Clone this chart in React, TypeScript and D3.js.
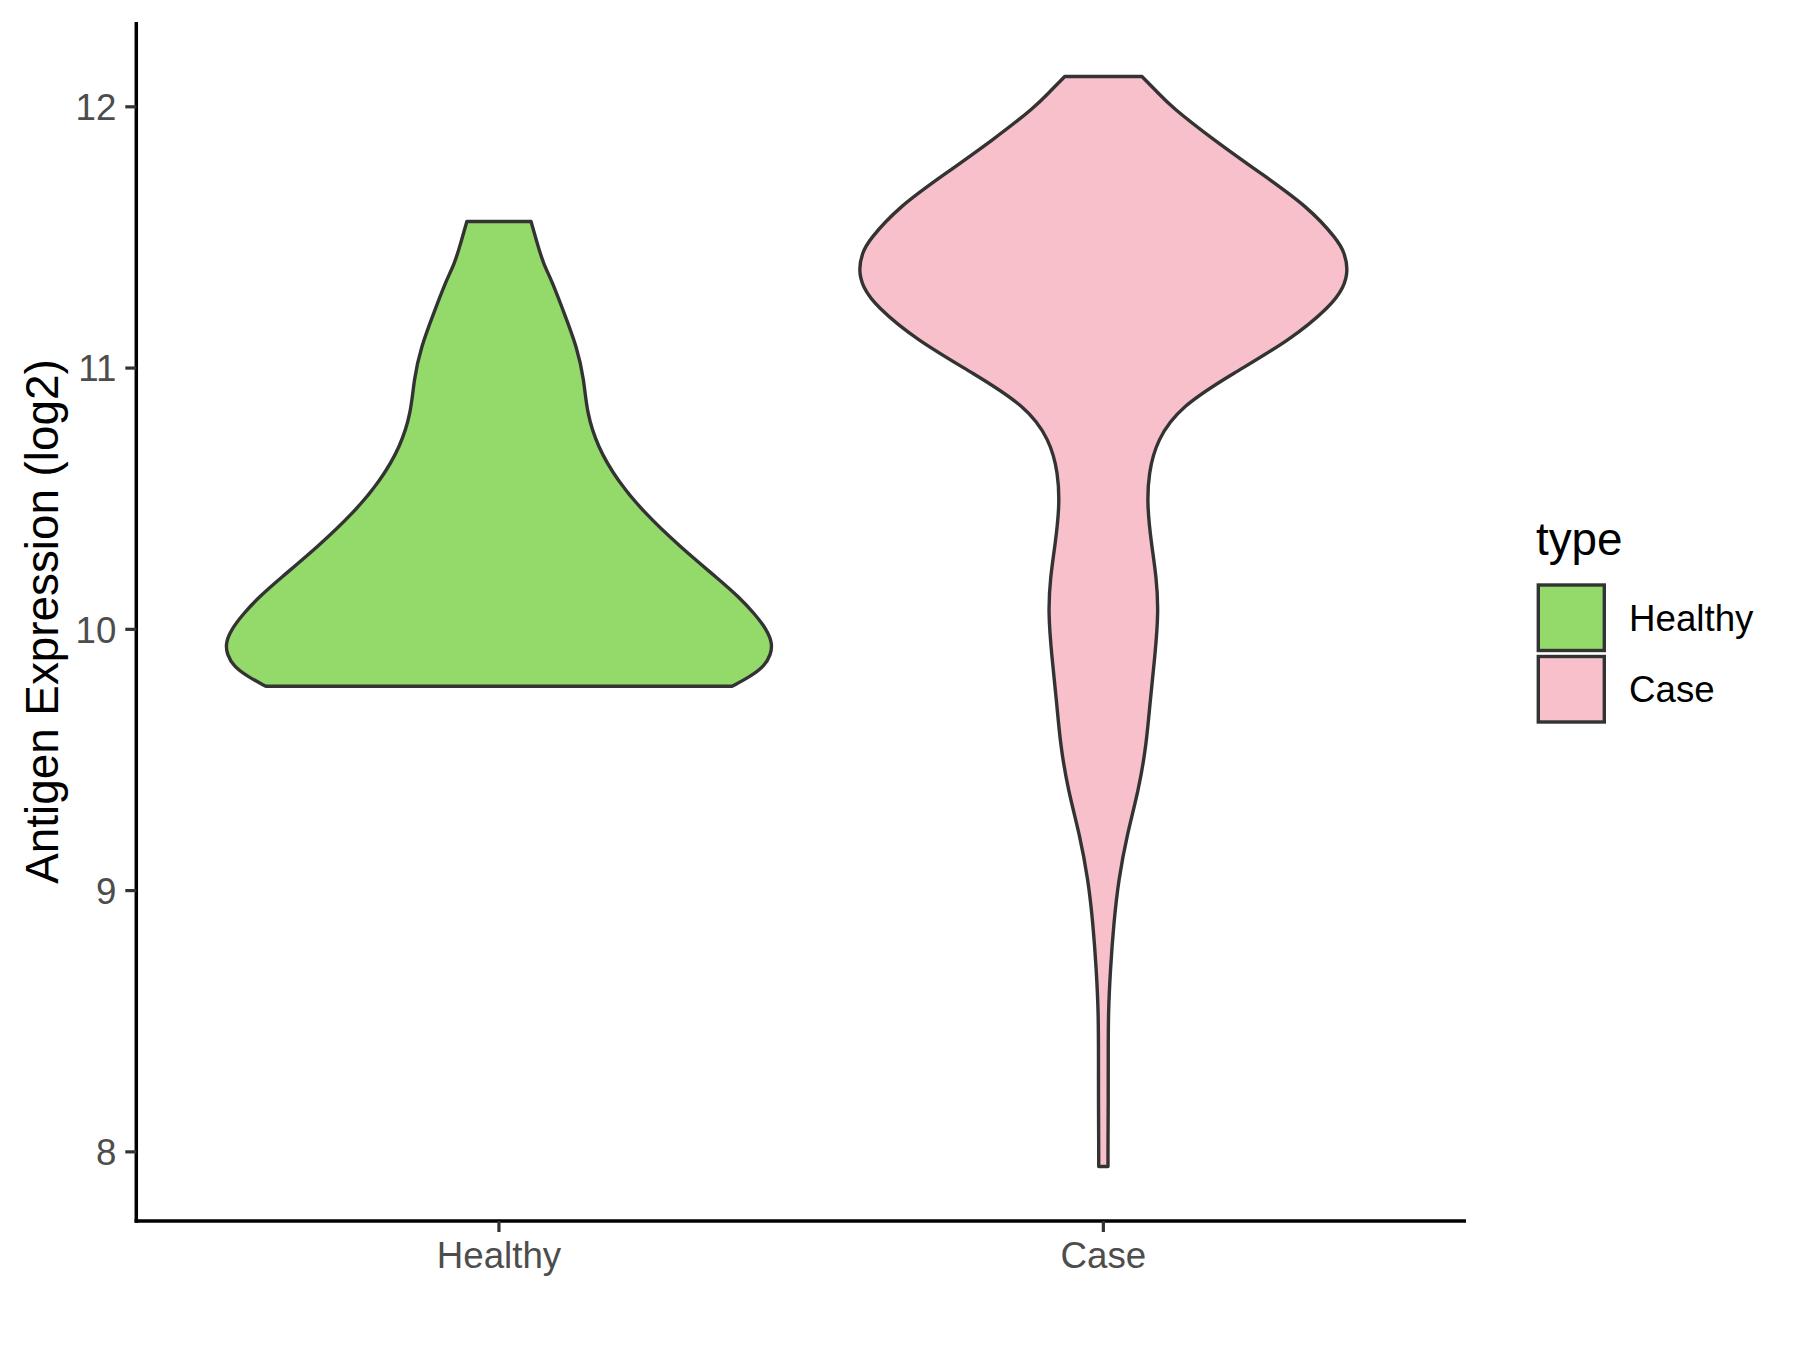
import React from "react";
import * as d3 from "d3";

const categories = ["Healthy", "Case"];
const fills = ["#93DA6A", "#F7C0CB"];

// violin outlines: value (log2) and relative half-width (1 = widest)
const healthyValues = [9.782, 9.82, 9.858, 9.903, 9.948, 9.998, 10.06, 10.126, 10.19, 10.317, 10.445, 10.57, 10.7, 10.83, 10.955, 11.08, 11.21, 11.338, 11.4, 11.48, 11.561];
const healthyWidths = [0.857, 0.925, 0.975, 1.0, 1.005, 0.985, 0.94, 0.88, 0.81, 0.665, 0.535, 0.435, 0.362, 0.323, 0.313, 0.287, 0.24, 0.193, 0.163, 0.14, 0.118];

const caseValues = [7.944, 8.019, 8.189, 8.36, 8.531, 8.701, 8.873, 9.043, 9.214, 9.386, 9.556, 9.726, 9.899, 10.068, 10.2, 10.325, 10.47, 10.598, 10.725, 10.853, 10.98, 11.108, 11.236, 11.31, 11.376, 11.44, 11.49, 11.618, 11.746, 11.874, 12.0, 12.06, 12.116];
const caseWidths = [0.017, 0.017, 0.018, 0.018, 0.018, 0.026, 0.038, 0.056, 0.087, 0.13, 0.158, 0.172, 0.19, 0.203, 0.195, 0.177, 0.161, 0.166, 0.197, 0.283, 0.478, 0.688, 0.835, 0.885, 0.9, 0.887, 0.862, 0.752, 0.578, 0.405, 0.25, 0.195, 0.142];

const yTicks = [8, 9, 10, 11, 12];
const yTitle = "Antigen Expression (log2)";
const legendTitle = "type";

const FONT = "'Liberation Sans', Arial, Helvetica, sans-serif";

export default function App() {
  const left = 136.3, right = 1466, top = 22, bottom = 1221;
  const allVals = [...healthyValues, ...caseValues];
  const vMin = d3.min(allVals) as number;
  const vMax = d3.max(allVals) as number;
  const pad = (vMax - vMin) * 0.05;
  const y = d3.scaleLinear().domain([vMin - pad, vMax + pad]).range([bottom, top]);
  const x = d3.scalePoint<string>().domain(categories).range([left, right]).padding(0.6);
  const maxHalf = x.step() * 0.45;

  const series = [
    { cat: categories[0], vals: healthyValues, ws: healthyWidths, fill: fills[0] },
    { cat: categories[1], vals: caseValues, ws: caseWidths, fill: fills[1] },
  ];

  const paths = series.map((s) => {
    const cx = x(s.cat) as number;
    const pts = s.vals.map((v, i) => ({ v, w: s.ws[i] }));
    const area = d3
      .area<{ v: number; w: number }>()
      .y((d) => y(d.v))
      .x0((d) => cx - d.w * maxHalf)
      .x1((d) => cx + d.w * maxHalf)
      .curve(d3.curveBasis);
    return { d: area(pts) as string, fill: s.fill };
  });

  return (
    <div style={{ position: "absolute", left: 0, top: 0 }}>
      <svg width={1800} height={1350} style={{ display: "block", background: "#fff" }} fontFamily={FONT}>
        <rect x={0} y={0} width={1800} height={1350} fill="#fff" />
        {paths.map((p, i) => (
          <path key={i} d={p.d} fill={p.fill} stroke="#333333" strokeWidth={3.4} strokeLinejoin="round" />
        ))}
        {/* axes */}
        <line x1={left} x2={left} y1={top} y2={bottom + 1.7} stroke="#000" strokeWidth={3.5} />
        <line x1={left - 1.7} x2={right} y1={bottom} y2={bottom} stroke="#000" strokeWidth={3.5} />
        {yTicks.map((t) => (
          <g key={t}>
            <line x1={left - 11} x2={left} y1={y(t)} y2={y(t)} stroke="#333333" strokeWidth={3.2} />
            <text x={left - 20} y={y(t)} dy="0.36em" textAnchor="end" fontSize={36.7} fill="#4D4D4D">
              {t}
            </text>
          </g>
        ))}
        {categories.map((c) => (
          <g key={c}>
            <line x1={x(c)} x2={x(c)} y1={bottom} y2={bottom + 11} stroke="#333333" strokeWidth={3.2} />
            <text x={x(c)} y={1268} textAnchor="middle" fontSize={36.7} fill="#4D4D4D">
              {c}
            </text>
          </g>
        ))}
        <text
          transform={`translate(58, ${(top + bottom) / 2}) rotate(-90)`}
          textAnchor="middle"
          fontSize={45.8}
          fill="#000"
        >
          {yTitle}
        </text>
        {/* legend */}
        <text x={1536} y={555} fontSize={45.8} fill="#000">
          {legendTitle}
        </text>
        {categories.map((c, i) => (
          <g key={c}>
            <rect x={1538.3} y={585 + i * 71.5} width={66} height={65.5} fill={fills[i]} stroke="#333333" strokeWidth={3.4} />
            <text x={1629} y={630.7 + i * 71} fontSize={36.7} fill="#000">
              {c}
            </text>
          </g>
        ))}
      </svg>
    </div>
  );
}
